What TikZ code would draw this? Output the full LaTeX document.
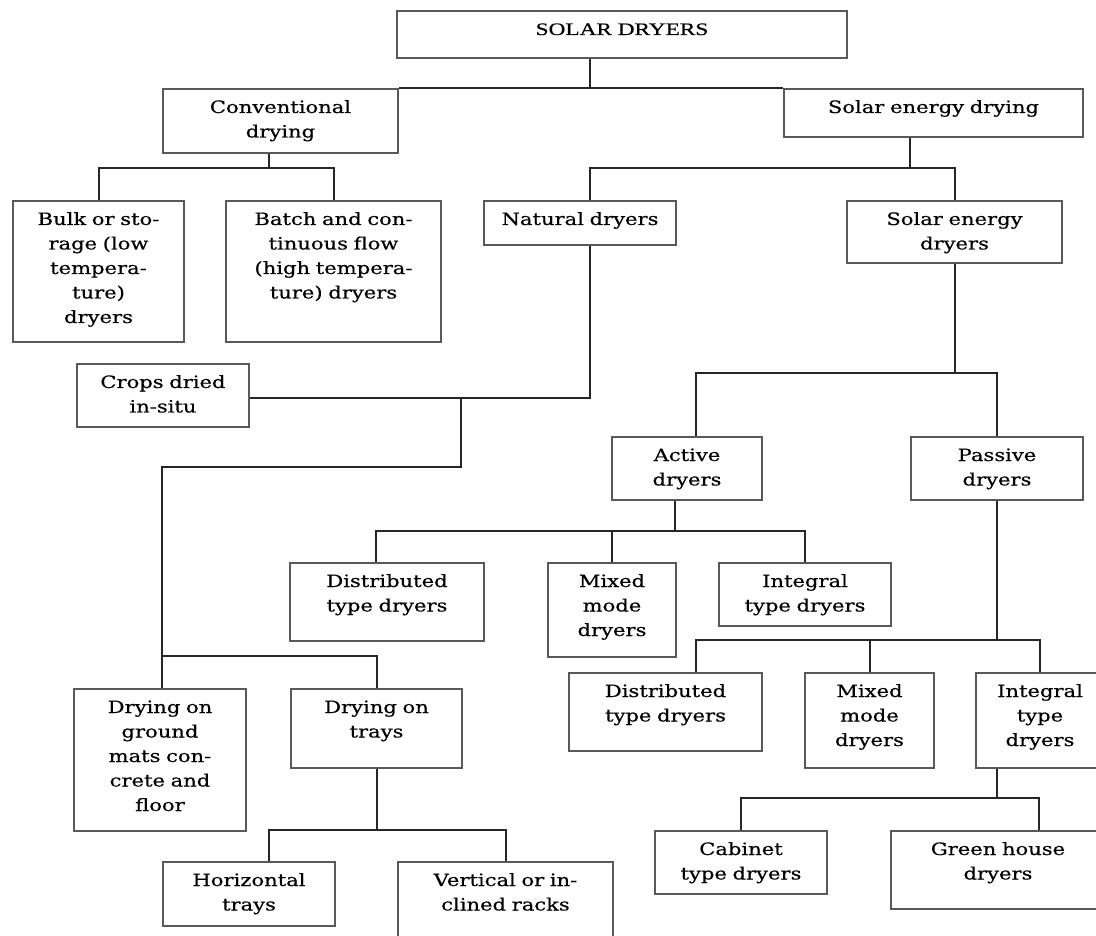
\documentclass[tikz,border=0pt]{standalone}
\usepackage{fontspec}
\setmainfont{DejaVu Serif}[FakeStretch=1.24, FakeBold=0.5]
\newfontfamily\headfont{Liberation Serif}[FakeStretch=1.33, FakeBold=0.6]
\tikzset{
  box/.style={draw=black!65, line width=2pt, anchor=north west, inner sep=0pt, align=center,
    text height=24pt, font=\fontsize{17}{24.5}\selectfont},
  head/.style={box, font=\headfont\fontsize{17.5}{24}\selectfont},
  bus/.style={draw=black!85, line width=2pt},
}
\begin{document}
\begin{tikzpicture}[x=1pt, y=-1pt]
  \useasboundingbox (0,0) rectangle (1096,936);
  % boxes
  \node[head, text width=450pt, text depth=23pt] (top) at (396,10) {SOLAR DRYERS};
  \node[box, text width=235pt, text depth=40pt] (conv) at (162,88) {Conventional\\drying};
  \node[box, text width=299pt, text depth=24pt] (sed) at (783,88) {Solar energy drying};
  \node[box, text width=171pt, text depth=117pt] (bulk) at (12,200) {Bulk or sto-\\rage (low\\tempera-\\ture)\\dryers};
  \node[box, text width=215pt, text depth=117pt] (batch) at (225,200) {Batch and con-\\tinuous flow\\(high tempera-\\ture) dryers};
  \node[box, text width=192pt, text depth=20pt] (nat) at (483,200) {Natural dryers};
  \node[box, text width=215pt, text depth=38pt] (sedr) at (846,200) {Solar energy\\dryers};
  \node[box, text width=172pt, text depth=39pt] (crops) at (76,363) {Crops dried\\in-situ};
  \node[box, text width=150pt, text depth=39pt] (act) at (611,436) {Active\\dryers};
  \node[box, text width=172pt, text depth=39pt] (pas) at (910,436) {Passive\\dryers};
  \node[box, text width=194pt, text depth=54pt] (dA) at (289,562) {Distributed\\type dryers};
  \node[box, text width=128pt, text depth=70pt] (mA) at (547,562) {Mixed\\mode\\dryers};
  \node[box, text width=172pt, text depth=39pt] (iA) at (718,562) {Integral\\type dryers};
  \node[box, text width=193pt, text depth=54pt] (dP) at (568,672) {Distributed\\type dryers};
  \node[box, text width=129pt, text depth=71pt] (mP) at (804,672) {Mixed\\mode\\dryers};
  \node[box, text width=128pt, text depth=71pt] (iP) at (975,672) {Integral\\type\\dryers};
  \node[box, text width=172pt, text depth=39pt] (cab) at (654,830) {Cabinet\\type dryers};
  \node[box, text width=214pt, text depth=54pt] (green) at (890,830) {Green house\\dryers};
  \node[box, text width=172pt, text depth=118pt] (ground) at (73,688) {Drying on\\ground\\mats con-\\crete and\\floor};
  \node[box, text width=171pt, text depth=55pt] (trays) at (290,688) {Drying on\\trays};
  \node[box, text width=172pt, text depth=40pt] (htr) at (162,861) {Horizontal\\trays};
  \node[box, text width=215pt, text depth=60pt] (vert) at (397,861) {Vertical or in-\\clined racks};
  % junctions
  \coordinate (j1) at (590,88);
  \coordinate (cv) at (269,168);
  \coordinate (sv) at (910,168);
  \coordinate (nc) at (590,398);
  \coordinate (nv) at (461,467);
  \coordinate (gt) at (162,656);
  \coordinate (sa) at (696,373);
  \coordinate (a0) at (675,531);
  \coordinate (a1) at (376,531);
  \coordinate (p1) at (696,640);
  \coordinate (i0) at (997,798);
  \coordinate (g1) at (1039,798);
  \coordinate (t1) at (269,830);
  % connectors
  \draw[bus] (top.south -| j1) -- (j1);
  \draw[bus] (conv.north east) -- (sed.north west);
  \draw[bus] (conv.south -| cv) -- (cv);
  \draw[bus] (bulk.north) -- (bulk.north |- cv) -- (batch.north |- cv) -- (batch.north);
  \draw[bus] (sed.south -| sv) -- (sv);
  \draw[bus] (nat.north -| j1) -- (sv -| j1) -- (sv -| sedr.north) -- (sedr.north);
  \draw[bus] (nat.south -| nc) -- (nc) -- (nc -| crops.east);
  \draw[bus] (nc -| nv) -- (nv) -- (nv -| gt) -- (gt |- ground.north);
  \draw[bus] (gt) -| (trays.north);
  \draw[bus] (sedr.south) -- (sedr.south |- sa);
  \draw[bus] (act.north -| sa) -- (sa) -| (pas.north);
  \draw[bus] (act.south -| a0) -- (a0);
  \draw[bus] (dA.north -| a1) -- (a1) -| (iA.north);
  \draw[bus] (mA.north) -- (mA.north |- a1);
  \draw[bus] (pas.south) -- (pas.south |- p1);
  \draw[bus] (dP.north -| p1) -- (p1) -| (iP.north);
  \draw[bus] (mP.north) -- (mP.north |- p1);
  \draw[bus] (iP.south -| i0) -- (i0);
  \draw[bus] (cab.north) |- (g1) -- (g1 |- green.north);
  \draw[bus] (trays.south) -- (trays.south |- t1);
  \draw[bus] (htr.north -| t1) -- (t1) -| (vert.north);
\end{tikzpicture}
\end{document}
